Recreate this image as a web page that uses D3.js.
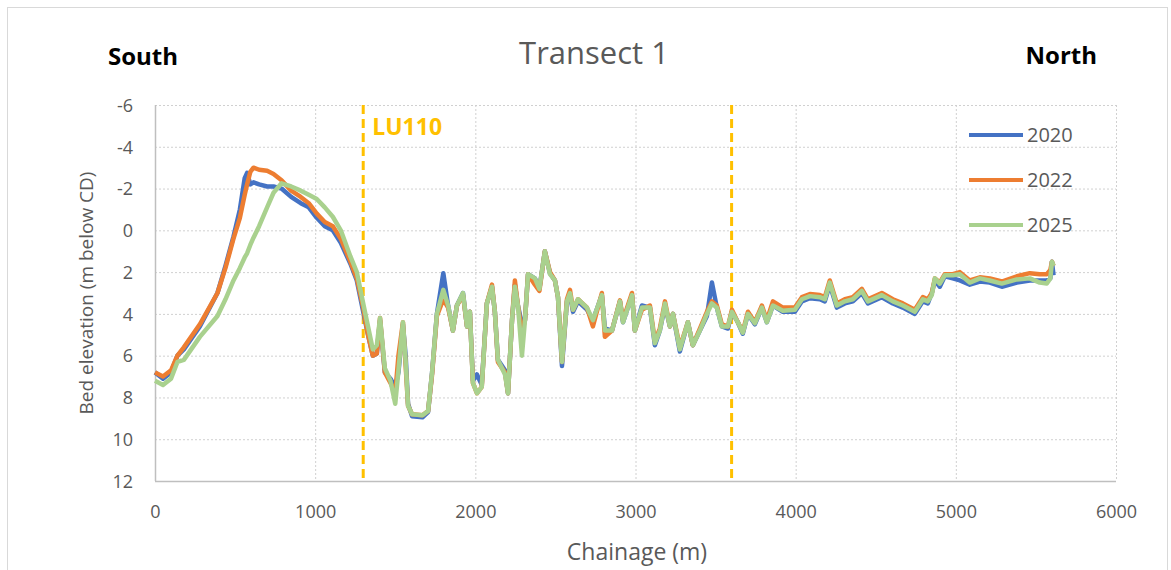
<!DOCTYPE html>
<html>
<head>
<meta charset="utf-8">
<script src="https://cdn.jsdelivr.net/npm/d3@7"></script>
<style>
    body { margin: 0; background: #fff; }
    svg { display: block; font-family: "Open Sans", sans-serif; }
</style>
</head>
<body>
<svg id="chart" width="1171" height="570"></svg>
<script>
"use strict";

// chainage (m) shared by all surveys
const chainage = [0, 50, 100, 140, 180, 280, 390, 440, 490, 530, 560, 575, 595, 615, 650, 700, 740, 790, 850, 910,
    960, 1010, 1060, 1110, 1160, 1220, 1260, 1300, 1330, 1360, 1385, 1405, 1435, 1470, 1500, 1520, 1548, 1565, 1580, 1605,
    1670, 1705, 1730, 1760, 1800, 1830, 1860, 1885, 1923, 1948, 1966, 1985, 2010, 2040, 2072, 2104, 2122, 2141, 2185, 2204,
    2229, 2247, 2266, 2291, 2310, 2329, 2372, 2400, 2434, 2466, 2497, 2516, 2541, 2572, 2591, 2610, 2641, 2697, 2734, 2790,
    2809, 2853, 2903, 2922, 2978, 2996, 3040, 3090, 3121, 3152, 3184, 3215, 3234, 3277, 3327, 3358, 3402, 3446, 3477, 3508,
    3539, 3577, 3602, 3639, 3670, 3702, 3745, 3789, 3820, 3858, 3920, 3995, 4039, 4089, 4151, 4182, 4213, 4257, 4307, 4357,
    4413, 4451, 4538, 4607, 4669, 4744, 4794, 4825, 4850, 4869, 4900, 4931, 4981, 5025, 5087, 5150, 5212, 5287, 5381, 5462,
    5524, 5568, 5590, 5600, 5610];

// bed elevation (m below CD)
const elev2020 = [6.8, 7.1, 6.8, 6.0, 5.7, 4.6, 3.0, 1.7, 0.3, -1.0, -2.5, -2.75, -2.2, -2.3, -2.2, -2.1, -2.1, -2.0, -1.6, -1.3,
    -1.1, -0.6, -0.2, 0.0, 0.6, 1.6, 2.4, 3.9, 5.0, 6.0, 5.9, 4.3, 6.8, 7.1, 7.5, 6.8, 4.5, 6.0, 8.3, 8.9,
    8.95, 8.7, 6.8, 4.0, 2.05, 3.6, 4.8, 3.6, 3.0, 4.6, 3.9, 7.2, 6.9, 7.4, 3.5, 2.7, 3.9, 6.2, 6.7, 7.8,
    4.3, 2.6, 3.6, 4.5, 4.3, 2.1, 2.3, 2.8, 1.0, 2.05, 2.4, 3.2, 6.5, 3.4, 3.1, 3.9, 3.4, 3.8, 4.3, 3.1,
    4.7, 4.8, 3.4, 4.4, 3.1, 4.8, 3.6, 3.7, 5.5, 4.8, 3.6, 4.6, 4.0, 5.8, 4.4, 5.5, 4.8, 4.1, 2.5, 3.7,
    4.6, 4.7, 3.9, 4.4, 4.95, 4.0, 4.5, 3.7, 4.4, 3.6, 3.9, 3.9, 3.4, 3.25, 3.3, 3.4, 2.6, 3.7, 3.5, 3.4,
    3.0, 3.5, 3.2, 3.5, 3.7, 4.0, 3.4, 3.5, 3.0, 2.4, 2.7, 2.2, 2.3, 2.4, 2.6, 2.45, 2.5, 2.7, 2.5, 2.4,
    2.4, 2.4, 2.3, 1.5, 2.15];

const elev2022 = [6.8, 7.0, 6.7, 6.0, 5.6, 4.5, 3.0, 1.8, 0.4, -0.6, -1.7, -2.2, -2.8, -3.0, -2.9, -2.85, -2.7, -2.4, -1.9, -1.6,
    -1.3, -0.8, -0.4, -0.2, 0.4, 1.5, 2.3, 3.7, 5.0, 6.0, 5.9, 4.2, 6.8, 7.3, 7.8, 6.0, 4.4, 6.5, 8.4, 8.8,
    8.85, 8.65, 6.9, 4.1, 3.3, 3.7, 4.8, 3.6, 3.1, 4.6, 3.9, 7.3, 7.8, 7.5, 3.5, 2.6, 3.9, 6.3, 6.8, 7.8,
    4.3, 2.4, 3.6, 4.9, 4.3, 2.1, 2.6, 2.9, 1.0, 2.0, 2.4, 3.2, 6.3, 3.3, 2.85, 3.8, 3.3, 3.7, 4.6, 3.0,
    5.1, 4.8, 3.35, 4.3, 3.0, 4.8, 3.8, 3.6, 5.3, 4.7, 3.4, 4.6, 4.0, 5.6, 4.4, 5.5, 4.7, 3.9, 3.4, 3.6,
    4.5, 4.6, 3.8, 4.4, 4.85, 3.9, 4.4, 3.6, 4.3, 3.4, 3.7, 3.7, 3.2, 3.05, 3.1, 3.2, 2.4, 3.5, 3.3, 3.2,
    2.8, 3.3, 3.0, 3.3, 3.5, 3.8, 3.2, 3.3, 3.0, 2.3, 2.5, 2.1, 2.1, 2.0, 2.4, 2.25, 2.3, 2.45, 2.2, 2.05,
    2.1, 2.1, 1.9, 1.5, 1.7];

const elev2025 = [7.2, 7.4, 7.1, 6.3, 6.2, 5.1, 4.1, 3.3, 2.4, 1.8, 1.3, 1.1, 0.7, 0.35, -0.2, -1.1, -1.8, -2.25, -2.1, -1.9,
    -1.7, -1.5, -1.1, -0.65, 0.0, 1.25, 2.0, 3.5, 4.6, 5.7, 5.5, 4.2, 6.6, 7.2, 8.3, 6.7, 4.4, 6.3, 8.4, 8.8,
    8.85, 8.65, 6.8, 4.0, 2.85, 3.6, 4.8, 3.6, 3.0, 4.6, 3.9, 7.3, 7.8, 7.5, 3.5, 2.7, 3.9, 6.2, 6.9, 7.8,
    4.3, 2.7, 3.6, 6.0, 4.3, 2.1, 2.3, 2.8, 1.0, 2.1, 2.4, 3.2, 6.3, 3.4, 3.0, 3.8, 3.3, 3.7, 4.3, 3.1,
    4.8, 4.8, 3.4, 4.4, 3.1, 4.8, 3.7, 3.7, 5.4, 4.8, 3.5, 4.6, 4.0, 5.7, 4.4, 5.5, 4.8, 4.0, 3.5, 3.7,
    4.6, 4.6, 3.9, 4.4, 4.9, 4.0, 4.45, 3.7, 4.4, 3.6, 3.85, 3.8, 3.3, 3.15, 3.2, 3.3, 2.5, 3.6, 3.4, 3.3,
    2.9, 3.4, 3.1, 3.4, 3.6, 3.9, 3.3, 3.4, 3.1, 2.3, 2.55, 2.15, 2.15, 2.1, 2.5, 2.3, 2.4, 2.55, 2.35, 2.3,
    2.5, 2.55, 2.3, 1.5, 1.7];

const seriesNames = ["2020", "2022", "2025"];
const seriesColors = ["#4472C4", "#ED7D31", "#A9D18E"];
const xTicks = [0, 1000, 2000, 3000, 4000, 5000, 6000];
const yTicks = [-6, -4, -2, 0, 2, 4, 6, 8, 10, 12];
const boundaries = [1300, 3600];

const svg = d3.select("#chart");
const margin = { left: 155, right: 1116, top: 105, bottom: 481 };
const textGrey = "#595959";

const x = d3.scaleLinear().domain([0, 6000]).range([margin.left, margin.right]);
const y = d3.scaleLinear().domain([-6, 12]).range([margin.top, margin.bottom]);

// chart frame
svg.append("rect")
    .attr("x", 7.5).attr("y", 7.5)
    .attr("width", 1160).attr("height", 600)
    .attr("fill", "#fff")
    .attr("stroke", "#d9d9d9");

// gridlines
const grid = svg.append("g");
grid.selectAll(".hgrid")
    .data(yTicks.filter((d) => d < 12))
    .join("line")
    .attr("x1", margin.left).attr("x2", margin.right)
    .attr("y1", (d) => y(d) + 0.5).attr("y2", (d) => y(d) + 0.5)
    .attr("stroke", "#d0d0d0")
    .attr("stroke-dasharray", "2,2");
grid.selectAll(".vgrid")
    .data(xTicks.filter((d) => d > 0))
    .join("line")
    .attr("x1", (d) => x(d) + 0.5).attr("x2", (d) => x(d) + 0.5)
    .attr("y1", margin.top).attr("y2", margin.bottom)
    .attr("stroke", "#d0d0d0")
    .attr("stroke-dasharray", "2,2");

// axes lines
svg.append("line")
    .attr("x1", margin.left + 0.5).attr("x2", margin.left + 0.5)
    .attr("y1", margin.top).attr("y2", margin.bottom)
    .attr("stroke", "#bfbfbf").attr("stroke-width", 1.5);
svg.append("line")
    .attr("x1", margin.left).attr("x2", margin.right)
    .attr("y1", margin.bottom + 0.5).attr("y2", margin.bottom + 0.5)
    .attr("stroke", "#bfbfbf").attr("stroke-width", 1.5);

// tick labels via d3 axes (plain hyphen for negatives, as in the source)
const yAxis = svg.append("g")
    .attr("transform", `translate(${margin.left - 22},0)`)
    .call(d3.axisLeft(y).tickValues(yTicks).tickSize(0).tickPadding(0).tickFormat((d) => String(d)));
const xAxis = svg.append("g")
    .attr("transform", `translate(0,${margin.bottom + 23})`)
    .call(d3.axisBottom(x).tickValues(xTicks).tickSize(0).tickPadding(0).tickFormat((d) => String(d)));
[yAxis, xAxis].forEach((axis) => {
    axis.select(".domain").remove();
    axis.selectAll("text")
        .attr("fill", textGrey)
        .style("font-family", "'Open Sans', sans-serif")
        .style("font-size", "18px");
});
yAxis.selectAll("text").attr("dy", "0.35em");
xAxis.selectAll("text").attr("dy", "0.75em");

// boundary markers
svg.selectAll(".boundary")
    .data(boundaries)
    .join("line")
    .attr("x1", (d) => x(d)).attr("x2", (d) => x(d))
    .attr("y1", margin.top).attr("y2", margin.bottom)
    .attr("stroke", "#FFC000")
    .attr("stroke-width", 3)
    .attr("stroke-dasharray", "9,5");
svg.append("text")
    .attr("x", x(boundaries[0]) + 9).attr("y", 135)
    .attr("fill", "#FFC000")
    .attr("font-weight", "bold")
    .attr("font-size", 23)
    .text("LU110");

// profiles
const series = [elev2020, elev2022, elev2025];
const line = d3.line()
    .x((d, i) => x(chainage[i]))
    .y((d) => y(d));
svg.append("g")
    .selectAll("path")
    .data(series)
    .join("path")
    .attr("d", line)
    .attr("fill", "none")
    .attr("stroke", (d, i) => seriesColors[i])
    .attr("stroke-width", 4.5)
    .attr("stroke-linejoin", "round");

// legend
const legend = svg.append("g");
seriesNames.forEach((name, i) => {
    const ly = 135 + i * 45;
    legend.append("line")
        .attr("x1", 969).attr("x2", 1023)
        .attr("y1", ly).attr("y2", ly)
        .attr("stroke", seriesColors[i])
        .attr("stroke-width", 4);
    legend.append("text")
        .attr("x", 1027).attr("y", ly)
        .attr("dy", "0.35em")
        .attr("fill", textGrey)
        .attr("font-size", 20)
        .text(name);
});

// titles
svg.append("text")
    .attr("x", 594).attr("y", 64)
    .attr("text-anchor", "middle")
    .attr("fill", textGrey)
    .attr("font-size", 31)
    .text("Transect 1");
svg.append("text")
    .attr("x", 108).attr("y", 65)
    .attr("font-weight", "bold")
    .attr("font-size", 24)
    .text("South");
svg.append("text")
    .attr("x", 1097).attr("y", 64)
    .attr("text-anchor", "end")
    .attr("font-weight", "bold")
    .attr("font-size", 24)
    .text("North");
svg.append("text")
    .attr("x", 637).attr("y", 560)
    .attr("text-anchor", "middle")
    .attr("fill", textGrey)
    .attr("font-size", 23)
    .text("Chainage (m)");
svg.append("text")
    .attr("transform", `translate(93,${(margin.top + margin.bottom) / 2}) rotate(-90)`)
    .attr("text-anchor", "middle")
    .attr("fill", textGrey)
    .attr("font-size", 19)
    .text("Bed elevation (m below CD)");
</script>
</body>
</html>
